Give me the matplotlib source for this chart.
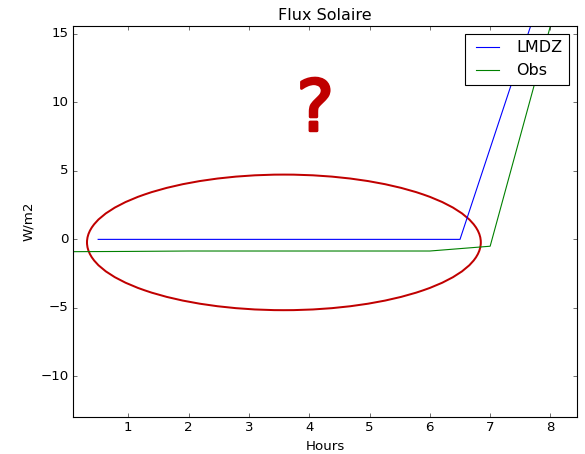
import matplotlib
matplotlib.use('Agg')
import matplotlib.pyplot as plt
import matplotlib.patheffects as pe
from matplotlib.patches import Ellipse

plt.style.use('classic')

lmdz_hours = [0.5, 1.5, 2.5, 3.5, 4.5, 5.5, 6.5, 7.5, 8.5]
lmdz_flux = [0, 0, 0, 0, 0, 0, 0, 13.3, 26.6]
obs_hours = [0.0, 1, 2, 3, 4, 5, 6, 7, 8, 9]
obs_flux = [-0.9, -0.88, -0.85, -0.85, -0.85, -0.85, -0.85, -0.5, 15.6, 31.7]

fig = plt.figure(figsize=(585 / 80, 454 / 80), dpi=80)
ax = fig.add_axes([73 / 585, 37 / 454, 504 / 585, 391 / 454])

ax.plot(lmdz_hours, lmdz_flux, color='b', label='LMDZ')
ax.plot(obs_hours, obs_flux, color='g', label='Obs')

ax.add_patch(Ellipse((3.58, -0.22), 6.53, 9.9, fill=False,
                     edgecolor='#c00000', linewidth=1.8))
ax.text(4.1, 9.35, '?', color='#c00000', fontsize=64,
        ha='center', va='center',
        path_effects=[pe.withStroke(linewidth=2.5, foreground='#c00000')])

ax.set_xlim(0.083, 8.44)
ax.set_ylim(-12.97, 15.58)
ax.set_xticks(range(1, 9))
ax.set_yticks([-10, -5, 0, 5, 10, 15])
ax.set_xlabel('Hours')
ax.set_ylabel('W/m2')
ax.set_title('Flux Solaire')
ax.legend(loc='upper right')

fig.savefig('out.png', dpi=80)
